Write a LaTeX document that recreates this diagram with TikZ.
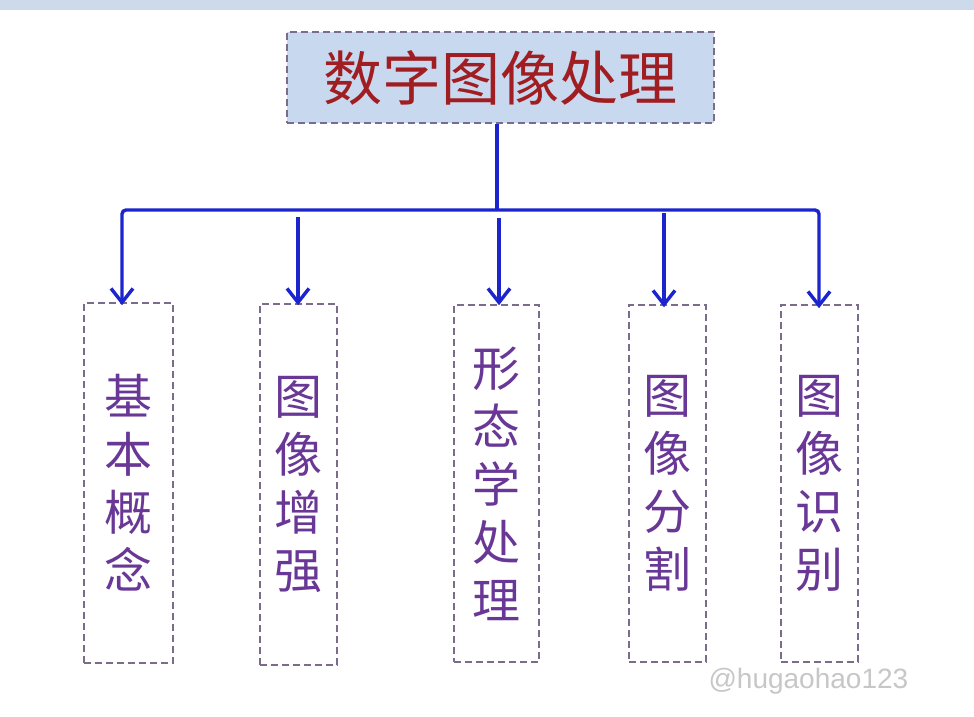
\documentclass[tikz,border=0pt]{standalone}
\usepackage{fontspec}
\setmainfont{Liberation Sans}
\newfontfamily\cjk{Noto Sans CJK SC}
\usetikzlibrary{arrows.meta}
\definecolor{linkblue}{RGB}{28,36,206}
\definecolor{titlered}{RGB}{160,30,34}
\definecolor{titlefill}{RGB}{200,216,238}
\definecolor{boxtext}{RGB}{105,55,150}
\definecolor{dashgray}{RGB}{122,108,138}
\definecolor{topbar}{RGB}{205,218,236}
\begin{document}
\begin{tikzpicture}[x=1pt,y=-1pt,
  titlebox/.style={draw=dashgray, dash pattern=on 7pt off 4pt, line width=1.6pt, fill=titlefill, inner sep=0pt, text=titlered, font=\cjk\fontsize{59}{60}\selectfont},
  leafbox/.style={draw=dashgray, dash pattern=on 7pt off 4pt, line width=1.6pt, inner sep=0pt, text=boxtext, align=center, font=\cjk\fontsize{48}{58}\selectfont},
  link/.style={draw=linkblue, line width=3.4pt},
  tip/.tip={Straight Barb[length=14pt,width=22pt,line width=3.4pt]},
  arr/.style={link, -tip}
]
\useasboundingbox (0,0) rectangle (974,717);
\fill[white] (0,0) rectangle (974,717);
\fill[topbar] (0,0) rectangle (974,10);

\node[titlebox, minimum width=427pt, minimum height=91pt] (title) at (500.5,77.5) {数字图像处理};

\node[leafbox, minimum width=89pt, minimum height=360pt] (b1) at (128.5,483) {基\\本\\概\\念};
\node[leafbox, minimum width=77pt, minimum height=361pt] (b2) at (298.5,484.5) {图\\像\\增\\强};
\node[leafbox, minimum width=85pt, minimum height=357pt] (b3) at (496.5,483.5) {形\\态\\学\\处\\理};
\node[leafbox, minimum width=77pt, minimum height=357pt] (b4) at (667.5,483.5) {图\\像\\分\\割};
\node[leafbox, minimum width=77pt, minimum height=357pt] (b5) at (819.5,483.5) {图\\像\\识\\别};

\coordinate (j0) at (497,210);
\coordinate (jL) at (122,210);
\coordinate (jR) at (819,210);
\coordinate (s2) at (298,217);
\coordinate (s3) at (499,218);
\coordinate (s4) at (664,213);

\draw[link] (title.south -| j0) -- (j0);
\draw[link, tip-tip, rounded corners=4pt] ([yshift=-3pt]b1.north -| jL) -- (jL) -- (jR) -- ([yshift=-4pt]b5.north -| jR);
\draw[arr] (s2) -- ([yshift=-2pt]b2.north -| s2);
\draw[arr] (s3) -- ([yshift=-1pt]b3.north -| s3);
\draw[arr] (s4) -- ([yshift=-3pt]b4.north -| s4);

\node[anchor=west, text=black!22, font=\fontsize{28}{28}\selectfont] (wm) at (705,681) {@hugaohao123};
\end{tikzpicture}
\end{document}
